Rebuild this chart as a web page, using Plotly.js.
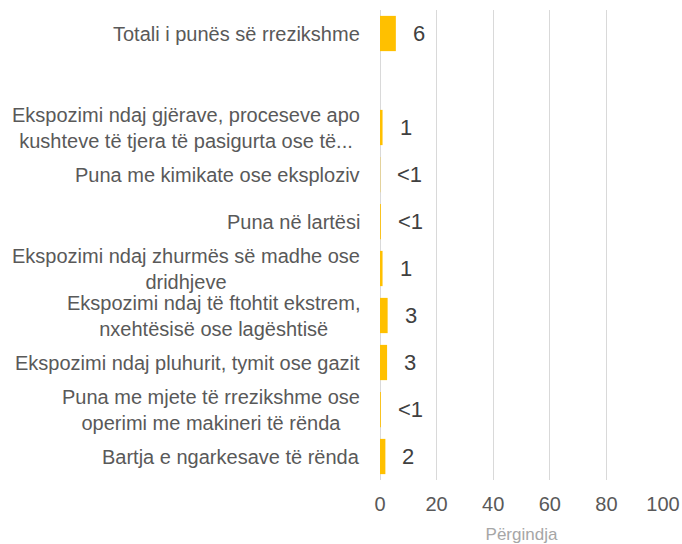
<!DOCTYPE html>
<html>
<head>
<meta charset="utf-8">
<script src="https://cdn.plot.ly/plotly-3.0.1.min.js"></script>
<style>html,body{margin:0;padding:0;background:#fff;}#chart{width:682px;height:544px;}</style>
</head>
<body>
<div id="chart"></div>
<script>
var categories = [
  "Totali i punës së rrezikshme",
  " ",
  "Ekspozimi ndaj gjërave, proceseve apo<br>kushteve të tjera të pasigurta ose të...",
  "Puna me kimikate ose eksploziv",
  "Puna në lartësi",
  "Ekspozimi ndaj zhurmës së madhe ose<br>dridhjeve",
  "Ekspozimi ndaj të ftohtit ekstrem,<br>nxehtësisë ose lagështisë",
  "Ekspozimi ndaj pluhurit, tymit ose gazit",
  "Puna me mjete të rrezikshme ose<br>operimi me makineri të rënda",
  "Bartja e ngarkesave të rënda"
];
var values = [5.6, null, 0.9, 0.1, 0.3, 0.9, 2.7, 2.5, 0.3, 1.9];
var valueLabels = ["6", "", "1", "<1", "<1", "1", "3", "3", "<1", "2"];
var xTicks = [0, 20, 40, 60, 80, 100];

var annotations = [];
categories.forEach(function (c, i) {
  if (c.trim() !== "") {
    annotations.push({
      x: 0, xref: "paper", y: c, yref: "y",
      text: c, showarrow: false, xanchor: "right", yanchor: "middle",
      align: "center", xshift: -18,
      font: {size: 20, color: "#595959"}
    });
  }
  if (valueLabels[i] !== "") {
    annotations.push({
      x: values[i], xref: "x", y: c, yref: "y",
      text: valueLabels[i], showarrow: false, xanchor: "left", yanchor: "middle",
      xshift: 15,
      font: {size: 22, color: "#404040"}
    });
  }
});

var trace = {
  type: "bar",
  orientation: "h",
  y: categories,
  x: values,
  marker: {color: "#FFC000"},
  hoverinfo: "none"
};

var layout = {
  width: 682, height: 544,
  margin: {l: 380, r: 19, t: 10, b: 64},
  paper_bgcolor: "#ffffff", plot_bgcolor: "#ffffff",
  font: {family: "Liberation Sans, Arial, sans-serif", color: "#595959"},
  showlegend: false,
  bargap: 0.25,
  xaxis: {
    range: [0, 100],
    tickvals: xTicks,
    ticktext: xTicks.map(String),
    showgrid: true, gridcolor: "#D9D9D9", gridwidth: 1,
    zeroline: true, zerolinecolor: "#D9D9D9", zerolinewidth: 1,
    showline: false, ticks: "",
    ticklabelstandoff: 10,
    tickfont: {size: 20, color: "#595959"},
    title: {text: "Përgindja", font: {size: 17, color: "#A6A6A6"}, standoff: 14},
    fixedrange: true
  },
  yaxis: {
    type: "category",
    categoryorder: "array",
    categoryarray: categories,
    autorange: "reversed",
    showticklabels: false,
    showgrid: false, zeroline: false, showline: false, ticks: "",
    fixedrange: true
  },
  annotations: annotations
};

Plotly.newPlot("chart", [trace], layout, {displayModeBar: false, staticPlot: true});
</script>
</body>
</html>
